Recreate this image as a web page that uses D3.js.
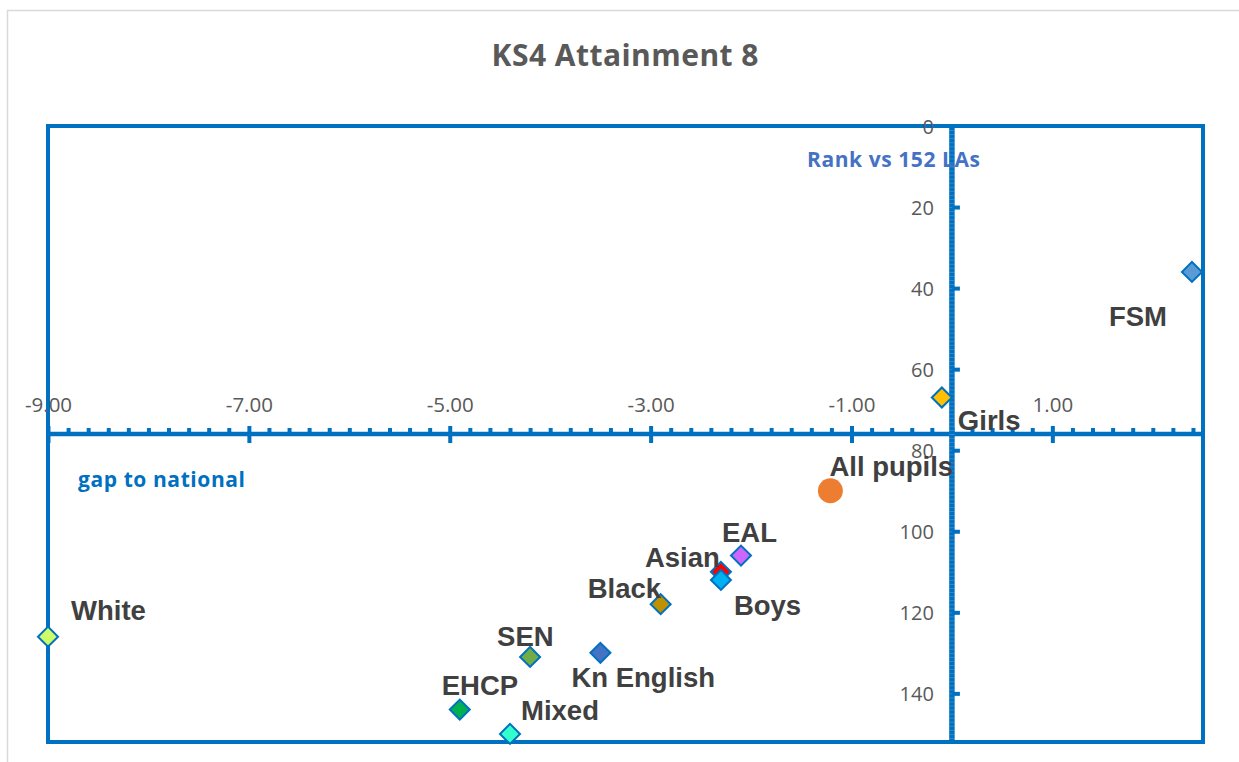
<!DOCTYPE html>
<html>
<head>
<meta charset="utf-8">
<script src="https://cdn.jsdelivr.net/npm/d3@7/dist/d3.min.js"></script>
<style>
  html, body { margin: 0; padding: 0; background: #fff; }
  svg { display: block; }
</style>
</head>
<body>
<svg id="chart" width="1239" height="762"></svg>
<script>
// ---- data ----
const categories = ["White", "EHCP", "Mixed", "SEN", "Kn English", "Black", "Asian", "Boys", "EAL", "All pupils", "Girls", "FSM"];
const gapValues  = [-9.00, -4.90, -4.40, -4.20, -3.50, -2.90, -2.30, -2.30, -2.10, -1.21, -0.10, 2.39];
const rankValues = [126, 144, 150, 131, 130, 118, 110, 112, 106, 90, 67, 36];
const fillColors = ["#CCFF66", "#00B050", "#33FFCC", "#70AD47", "#4472C4", "#BF9000", "#FF0000", "#00B0F0", "#CC66FF", "#ED7D31", "#FFC000", "#5B9BD5"];
const xTickValues = [-9, -7, -5, -3, -1, 1];
const yTickValues = [0, 20, 40, 60, 80, 100, 120, 140];
const xDomain = [-9, 2.5];
const yDomain = [0, 152];
const xCross = 76;   // horizontal axis crosses at rank 76
const yCross = 0;    // vertical axis crosses at gap 0

// ---- label placement (pixel offsets from the marker) ----
const labelOffsets = {
  "White": [23, -17], "EHCP": [-18, -15], "Mixed": [11, -14], "SEN": [-33, -11],
  "Kn English": [-29, 34], "Black": [-73, -6], "Asian": [-76, -5], "Boys": [13, 35],
  "EAL": [-19, -14], "All pupils": [-1, -15], "Girls": [16, 32], "FSM": [-83, 54]
};

(function () {
const svg = d3.select("#chart");
const W = 1239, H = 762;
const pLeft = 48, pRight = 1203, pTop = 126, pBottom = 742;
const blue = "#0070C0";

const x = d3.scaleLinear().domain(xDomain).range([pLeft, pRight]);
const y = d3.scaleLinear().domain(yDomain).range([pTop, pBottom]);
const fmt2 = v => d3.format(".2f")(v).replace("\u2212", "-");

// chart area border
svg.append("rect").attr("x", 7.5).attr("y", 10.5).attr("width", W + 20).attr("height", H + 20)
  .attr("fill", "#fff").attr("stroke", "#D9D9D9").attr("stroke-width", 1.5);

// title
svg.append("text").attr("x", 625).attr("y", 66).attr("text-anchor", "middle")
  .attr("font-family", "Open Sans, sans-serif").attr("font-weight", 700).attr("font-size", 30)
  .attr("textLength", 267).attr("fill", "#595959").text("KS4 Attainment 8");

// plot border
svg.append("rect").attr("x", pLeft).attr("y", pTop).attr("width", pRight - pLeft).attr("height", pBottom - pTop)
  .attr("fill", "none").attr("stroke", blue).attr("stroke-width", 4);

// ---- horizontal axis ----
const xAxisY = y(xCross);
const minorX = d3.range(-9, 2.5001, 0.2).map(v => Math.round(v * 10) / 10)
  .filter(v => !xTickValues.some(t => Math.abs(t - v) < 1e-6) && v > -9 && v < 2.5);
const gxMinor = svg.append("g").attr("transform", `translate(0,${xAxisY})`)
  .call(d3.axisTop(x).tickValues(minorX).tickSize(6).tickFormat(""));
gxMinor.select(".domain").remove();
gxMinor.selectAll(".tick line").attr("stroke", blue).attr("stroke-width", 4);

const gx = svg.append("g").attr("transform", `translate(0,${xAxisY})`)
  .call(d3.axisTop(x).tickValues(xTickValues).tickSize(8).tickFormat(fmt2));
gx.select(".domain").remove();
gx.selectAll(".tick line").attr("y1", 9).attr("y2", -8).attr("stroke", blue).attr("stroke-width", 4);
gx.selectAll(".tick text").attr("y", -22).attr("dy", 0)
  .attr("font-family", "Open Sans, sans-serif").attr("font-size", 20.5).attr("fill", "#595959");
svg.append("line").attr("x1", pLeft).attr("x2", pRight).attr("y1", xAxisY).attr("y2", xAxisY)
  .attr("stroke", blue).attr("stroke-width", 4.5);

// ---- vertical axis ----
const yAxisX = x(yCross);
svg.append("line").attr("x1", yAxisX).attr("x2", yAxisX).attr("y1", pTop).attr("y2", pBottom)
  .attr("stroke", blue).attr("stroke-width", 5.5);
const gyMinor = svg.append("g").attr("transform", `translate(${yAxisX},0)`)
  .call(d3.axisRight(y).tickValues(d3.range(1, 152, 1)).tickSize(3).tickFormat(""));
gyMinor.select(".domain").remove();
gyMinor.selectAll(".tick line").attr("x1", -3).attr("x2", 3).attr("stroke", "#7FB6E6")
  .attr("stroke-width", 0.6).attr("stroke-opacity", 0.6);

const gy = svg.append("g").attr("transform", `translate(${yAxisX},0)`)
  .call(d3.axisLeft(y).tickValues(yTickValues).tickSize(0).tickFormat(d3.format("d")));
gy.select(".domain").remove();
gy.selectAll(".tick line").attr("x1", 0).attr("x2", 8).attr("stroke", blue).attr("stroke-width", 4)
  .attr("stroke-opacity", d => d === 0 ? 0 : 1);
gy.selectAll(".tick text").attr("x", -18).attr("dy", "0.36em")
  .attr("font-family", "Open Sans, sans-serif").attr("font-size", 20).attr("fill", "#595959");

// axis titles
svg.append("text").attr("x", 807).attr("y", 167)
  .attr("font-family", "Open Sans, sans-serif").attr("font-weight", 700).attr("font-size", 21)
  .attr("textLength", 173).attr("fill", "#4472C4").text("Rank vs 152 LAs");
svg.append("text").attr("x", 78).attr("y", 487)
  .attr("font-family", "Open Sans, sans-serif").attr("font-weight", 700).attr("font-size", 21)
  .attr("textLength", 167).attr("fill", "#0070C0").text("gap to national");

// ---- points ----
const pts = categories.map((c, i) => ({ c, gx: gapValues[i], r: rankValues[i], fill: fillColors[i] }));
const diamond = d3.symbol().type(d3.symbolSquare).size(200);
const gp = svg.append("g");
pts.forEach(d => {
  if (d.c === "All pupils") {
    gp.append("circle").attr("cx", x(d.gx)).attr("cy", y(d.r)).attr("r", 12.5).attr("fill", d.fill);
  } else {
    gp.append("path").attr("d", diamond)
      .attr("transform", `translate(${x(d.gx)},${y(d.r)}) rotate(45)`)
      .attr("fill", d.fill).attr("stroke", blue).attr("stroke-width", 2);
  }
});

// ---- labels ----
const gl = svg.append("g");
pts.forEach(d => {
  const o = labelOffsets[d.c];
  gl.append("text").attr("x", x(d.gx) + o[0]).attr("y", y(d.r) + o[1])
    .attr("font-family", "Liberation Sans, Arial, sans-serif").attr("font-weight", 700)
    .attr("font-size", 27.5).attr("fill", "#404040").text(d.c);
});
})();
</script>
</body>
</html>
